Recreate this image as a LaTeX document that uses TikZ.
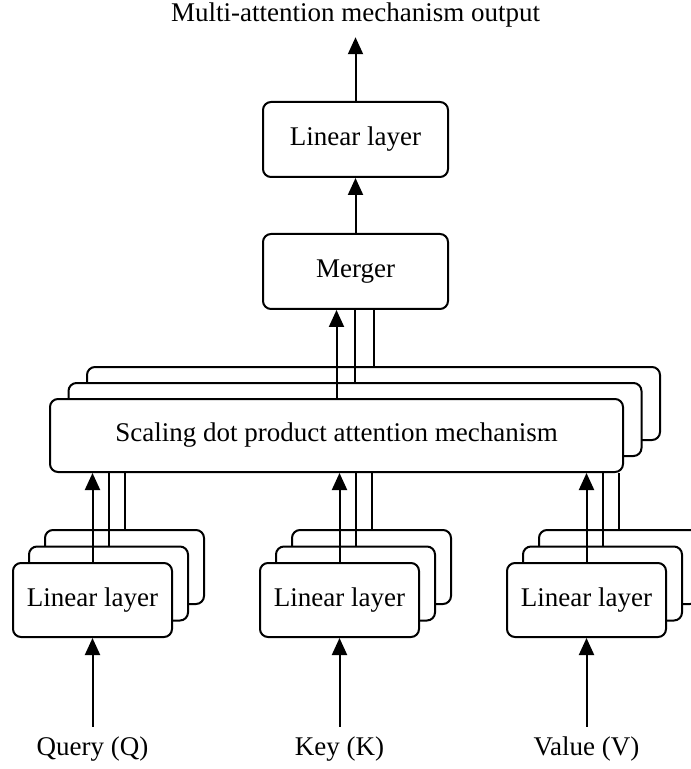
\documentclass[tikz,border=0pt]{standalone}
\usepackage{fontspec}
\setmainfont{Liberation Serif}
\usetikzlibrary{arrows.meta}

\begin{document}
\begin{tikzpicture}[x=0.5pt, y=-0.5pt, >={Triangle[width=7.5pt,length=8.5pt]}, line width=1pt,
  box/.style={draw, fill=white, rounded corners=4pt, inner sep=0pt, font=\fontsize{13.5}{15}\selectfont},
  linbox/.style={box, minimum width=79.5pt, minimum height=37pt},
  attbox/.style={box, minimum width=286.5pt, minimum height=36.5pt},
  topbox/.style={box, minimum width=92.5pt, minimum height=37.5pt},
  caption/.style={inner sep=4.5pt, font=\fontsize{13.5}{15}\selectfont}]
  \useasboundingbox (0,0) rectangle (690,769);

  % linear layers for Q, K, V (back to front)
  \foreach \n/\x in {q/92.5, k/339.5, v/586.5} {
    \node[linbox] (\n3) at (\x+32,567) {};
    \node[linbox] (\n2) at (\x+16,583.5) {};
    \node[linbox] (\n1) at (\x,600) {Linear layer};
  }

  % attention heads
  \node[attbox] (att3) at (373.5,403.5) {};
  \node[attbox] (att2) at (355,419.5) {};
  \node[attbox] (att1) at (336.5,435.5) {Scaling dot product attention mechanism};

  \node[topbox] (merge) at (355.5,271.5) {Merger};
  \node[topbox] (linout) at (355.5,139.5) {Linear layer};
  \node[caption] (out) at (355.5,15) {Multi-attention mechanism output};

  \node[caption] (query) at (92.5,749) {Query (Q)};
  \node[caption] (key) at (339.5,749) {Key (K)};
  \node[caption] (value) at (586.5,749) {Value (V)};

  % connectors
  \draw[->] (query.north) -- (q1.south);
  \draw[->] (key.north) -- (k1.south);
  \draw[->] (value.north) -- (v1.south);
  \foreach \n in {q,k,v} {
    \draw[->] (\n1.north) -- (\n1.north |- att1.south);
    \draw (\n2.north) -- (\n2.north |- att1.south);
    \draw (\n3.north) -- (\n3.north |- att1.south);
  }
  \draw[->] (att1.north) -- (att1.north |- merge.south);
  \draw (att2.north) -- (att2.north |- merge.south);
  \draw (att3.north) -- (att3.north |- merge.south);
  \draw[->] (merge.north) -- (linout.south);
  \draw[->] (linout.north) -- (out.south);
\end{tikzpicture}
\end{document}
